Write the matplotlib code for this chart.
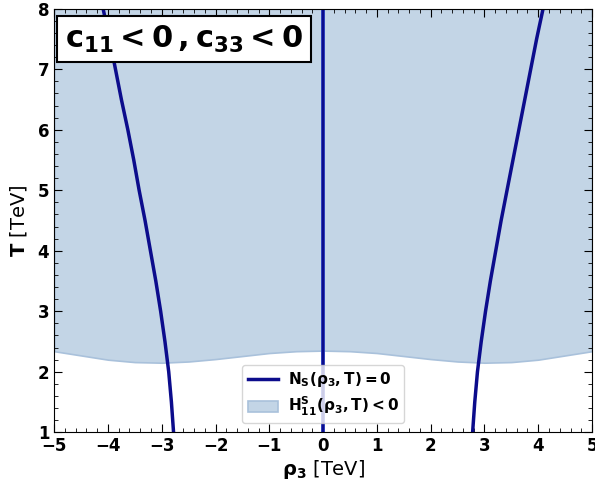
import matplotlib
matplotlib.use("Agg")
import matplotlib.pyplot as plt
from matplotlib.ticker import AutoMinorLocator

# Data
T_curve = [1.0, 1.5, 2.0, 2.5, 3.0, 3.5, 4.0, 4.5, 5.0, 5.5, 6.0, 6.5, 7.0, 7.5, 8.0]
rho_left = [-2.78, -2.82, -2.87, -2.94, -3.02, -3.11, -3.21, -3.31, -3.42, -3.52, -3.63, -3.75, -3.86, -3.97, -4.09]
rho_right = [2.78, 2.82, 2.87, 2.94, 3.02, 3.11, 3.21, 3.31, 3.42, 3.53, 3.64, 3.75, 3.86, 3.97, 4.09]

rho_bound = [-5.0, -4.5, -4.0, -3.5, -3.0, -2.5, -2.0, -1.5, -1.0, -0.5, 0.0, 0.5, 1.0, 1.5, 2.0, 2.5, 3.0, 3.5, 4.0, 4.5, 5.0]
T_bound = [2.34, 2.27, 2.20, 2.16, 2.15, 2.17, 2.21, 2.26, 2.31, 2.34, 2.35, 2.34, 2.31, 2.26, 2.21, 2.17, 2.15, 2.16, 2.20, 2.27, 2.34]

xticks = [-5, -4, -3, -2, -1, 0, 1, 2, 3, 4, 5]
yticks = [1, 2, 3, 4, 5, 6, 7, 8]

fig = plt.figure(figsize=(5.95, 4.83), dpi=100)
ax = fig.add_axes([0.091, 0.105, 0.904, 0.877])

ax.fill_between(rho_bound, T_bound, 8, color='#c3d5e6', edgecolor='#a9c1db', linewidth=1.2,
                label=r'$\mathbf{H^S_{11}(\rho_3,T)<0}$')
ax.plot(rho_left, T_curve, color='#0c0c8c', linewidth=2.5, label=r'$\mathbf{N_S(\rho_3,T)=0}$')
ax.plot(rho_right, T_curve, color='#0c0c8c', linewidth=2.5)
ax.axvline(0, color='#2a3fc0', linewidth=2.8)
ax.axvline(0, color='#0c0c8c', linewidth=1.6)

ax.set_xlim(-5, 5)
ax.set_ylim(1, 8)
ax.set_xticks(xticks)
ax.set_yticks(yticks)
ax.xaxis.set_minor_locator(AutoMinorLocator(5))
ax.yaxis.set_minor_locator(AutoMinorLocator(5))
ax.tick_params(which='both', direction='in', top=True, right=True, labelsize=12)
ax.tick_params(which='major', length=6)
ax.tick_params(which='minor', length=3)
for lab in ax.get_xticklabels() + ax.get_yticklabels():
    lab.set_fontweight('bold')

ax.set_xlabel(r'$\mathbf{\rho_3}$ [TeV]', fontsize=14, labelpad=2)
ax.set_ylabel(r'$\mathbf{T}$ [TeV]', fontsize=14, labelpad=6)

ax.text(0.02, 0.965, r'$\mathbf{c_{11}<0\,,c_{33}<0}$', transform=ax.transAxes,
        fontsize=22, va='top', ha='left',
        bbox=dict(boxstyle='square,pad=0.25', facecolor='white', edgecolor='black', linewidth=1.5))

handles, labels = ax.get_legend_handles_labels()
order = [1, 0]
ax.legend([handles[i] for i in order], [labels[i] for i in order], loc='lower center',
          bbox_to_anchor=(0.5, 0.003), fontsize=11, framealpha=0.8,
          labelspacing=0.35, borderpad=0.35, handletextpad=0.6)

fig.savefig('out.png', dpi=100)
